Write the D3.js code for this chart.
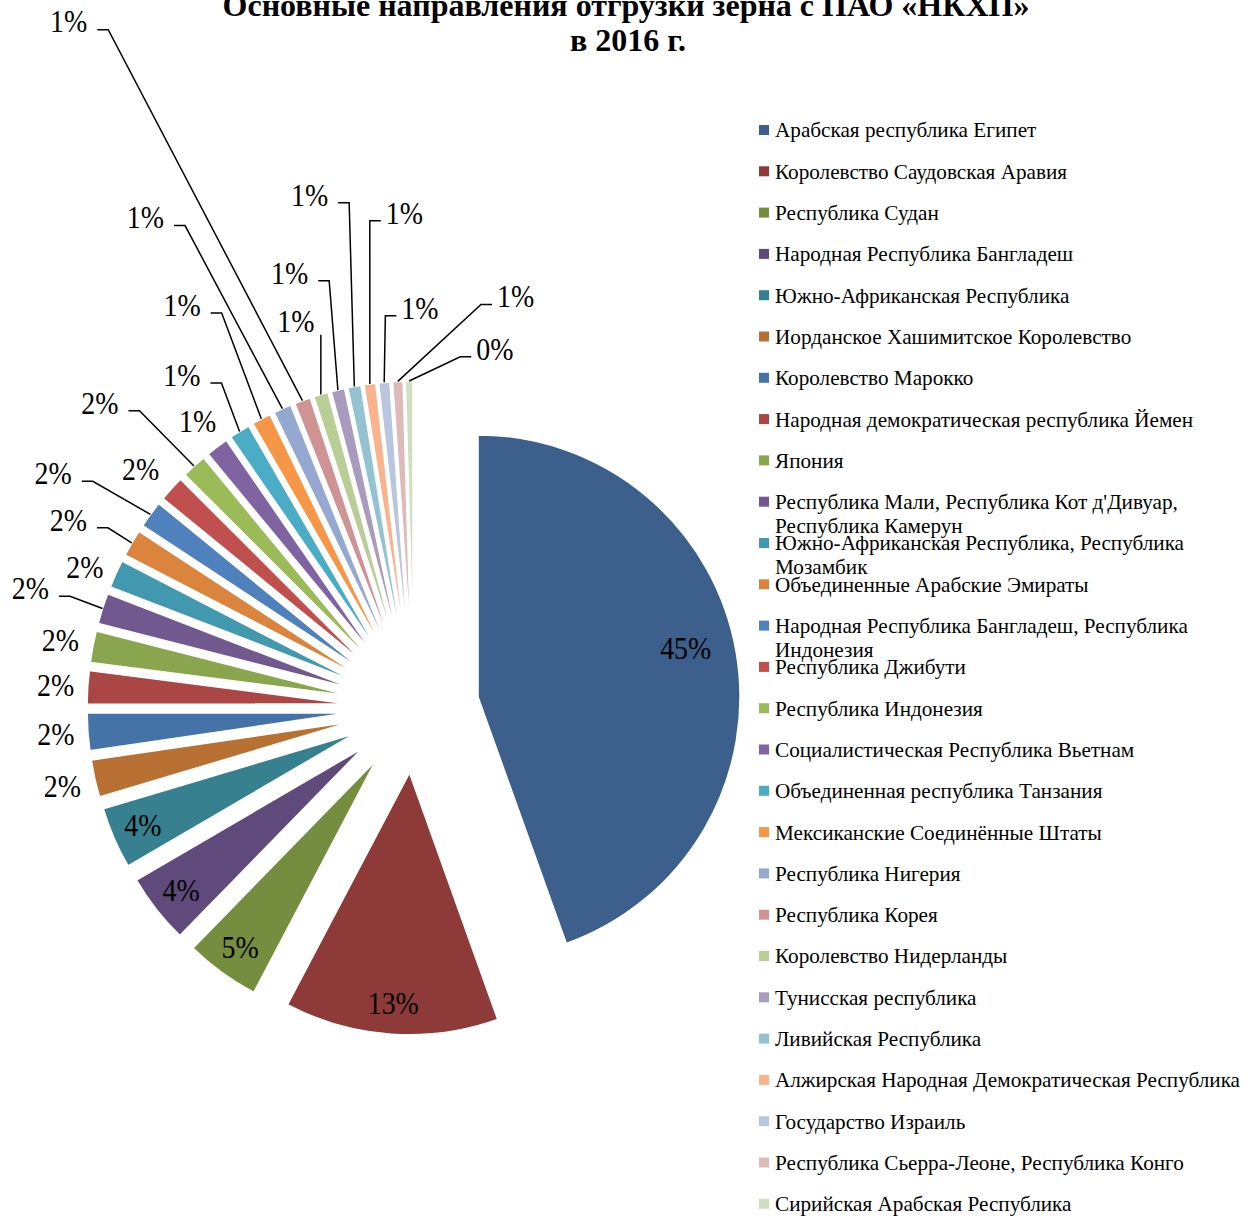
<!DOCTYPE html>
<html>
<head>
<meta charset="utf-8">
<script src="https://cdn.jsdelivr.net/npm/d3@7"></script>
<style>
  body { margin: 0; background: #fff; }
  svg { display: block; }
  text { font-family: "Liberation Serif", "Times New Roman", serif; fill: #000; }
</style>
</head>
<body>
<svg id="chart"></svg>
<script>
// countries in the order of the pie (clockwise from 12 o'clock)
const categories = [
  "Арабская республика Египет",
  "Королевство Саудовская Аравия",
  "Республика Судан",
  "Народная Республика Бангладеш",
  "Южно-Африканская Республика",
  "Иорданское Хашимитское Королевство",
  "Королевство Марокко",
  "Народная демократическая республика Йемен",
  "Япония",
  "Республика Мали, Республика Кот д'Дивуар,\nРеспублика Камерун",
  "Южно-Африканская Республика, Республика\nМозамбик",
  "Объединенные Арабские Эмираты",
  "Народная Республика Бангладеш, Республика\nИндонезия",
  "Республика Джибути",
  "Республика Индонезия",
  "Социалистическая Республика Вьетнам",
  "Объединенная республика Танзания",
  "Мексиканские Соединённые Штаты",
  "Республика Нигерия",
  "Республика Корея",
  "Королевство Нидерланды",
  "Тунисская республика",
  "Ливийская Республика",
  "Алжирская Народная Демократическая Республика",
  "Государство Израиль",
  "Республика Сьерра-Леоне, Республика Конго",
  "Сирийская Арабская Республика"
];

// share of shipments, %
const shares = [44.6, 13.2, 4.6, 4.3, 3.8, 2.3, 2.3, 2.05, 1.95, 1.9, 1.72, 1.67, 1.66,
  1.58, 1.53, 1.39, 1.28, 1.17, 1.11, 1.0, 0.89, 0.83, 0.81, 0.72, 0.69, 0.64, 0.47];

const colors = [
  "#3c5f8c", "#8e3a38", "#758d3f", "#5f4a7b", "#36808f", "#b97133",
  "#4572a7", "#aa4643", "#89a54e", "#71588f", "#4198af", "#db843d",
  "#4f81bd", "#c0504d", "#9bbb59", "#8064a2", "#4bacc6", "#f79646",
  "#95a9d0", "#d09393", "#b9ce97", "#a99bbd", "#93c3d3", "#f9b48e",
  "#b9c6df", "#dfbaba", "#d2dec0"
];

// labels dragged away from their default spot (as in the Excel original)
const labelShift = [
  [-4, -12], [0, 0], [0, 0], [0, 0], [0, 0], [0, 0], [0, 0], [0, 0], [0, 0],
  [-40, -10], [0, 7], [-34, -6], [-70, -21], [-6, 3], [-72, -39], [0, 0],
  [-41, -30], [-65, -87], [-125, -164], [-224, -352], [-17, -47], [-42, -91],
  [-40, -166], [38, -146], [38, -50], [119, -61], [86, -9]
];

const width = 1248, height = 1216;
const cx = 414, cy = 708;
const radius = 262, explode = 65;
const labelScaleX = 0.9;

const svg = d3.select("#chart").attr("width", width).attr("height", height);

// title
const title = svg.append("text")
  .attr("text-anchor", "middle")
  .attr("font-weight", "bold")
  .attr("font-size", "32px");
title.append("tspan").attr("x", 626).attr("y", 16).text("Основные направления отгрузки зерна с ПАО «НКХП»");
title.append("tspan").attr("x", 628).attr("y", 51).text("в 2016 г.");

const total = d3.sum(shares);
const pieData = d3.pie().sort(null).value(d => d)(shares);
const arc = d3.arc().innerRadius(0).outerRadius(radius);
const dir = a => [Math.sin(a), -Math.cos(a)];
const mid = d => (d.startAngle + d.endAngle) / 2;

const chart = svg.append("g").attr("transform", `translate(${cx},${cy})`);

chart.selectAll("path.slice")
  .data(pieData)
  .join("path")
    .attr("class", "slice")
    .attr("transform", d => {
      const [x, y] = dir(mid(d));
      return `translate(${x * explode},${y * explode})`;
    })
    .attr("d", arc)
    .attr("fill", (d, i) => colors[i])
    .attr("stroke", "#fff")
    .attr("stroke-width", 1.5);

// data labels
const labels = [];
pieData.forEach((d, i) => {
  const m = mid(d);
  const [ux, uy] = dir(m);
  const apex = [ux * explode, uy * explode];
  const edge = [apex[0] + ux * radius, apex[1] + uy * radius];
  const pct = Math.round(d.value / total * 100) + "%";
  const s = labelShift[i];
  if (d.value / total >= 0.03) {
    const k = i === 0 ? 0.82 : 0.88;
    labels.push({pct, x: apex[0] + ux * radius * k + s[0], y: apex[1] + uy * radius * k + s[1], leader: null});
  } else {
    const ext = 13 + 18.5 * Math.abs(Math.sin(m)) + 10 * Math.abs(Math.cos(m));
    labels.push({
      pct,
      x: edge[0] + ux * ext + s[0],
      y: edge[1] + uy * ext + s[1],
      leader: Math.hypot(s[0], s[1]) > 9 ? edge : null
    });
  }
});

const lblText = chart.selectAll("text.pct")
  .data(labels)
  .join("text")
    .attr("class", "pct")
    .attr("transform", d => `translate(${d.x},${d.y}) scale(${labelScaleX},1)`)
    .attr("text-anchor", "middle")
    .attr("dy", "0.35em")
    .attr("font-size", "31px")
    .text(d => d.pct);

// leader lines: short horizontal tick beside the label, then to the slice edge
lblText.each(function(d) {
  if (!d.leader) return;
  const hw = this.getComputedTextLength() * labelScaleX / 2;
  const A = d.leader;
  const y0 = d.y + 8;
  let pts;
  if (d.x < A[0]) {
    const x1 = d.x + hw + 10, x2 = d.x + hw + 21;
    pts = x2 > A[0] + 3 ? [[A[0], d.y + 14], A] : [[x1, y0], [x2, y0], A];
  } else {
    const x1 = d.x - hw - 5, x2 = d.x - hw - 16;
    pts = x2 < A[0] - 3 ? [[A[0], d.y + 14], A] : [[x1, y0], [x2, y0], A];
  }
  chart.append("path")
    .attr("d", d3.line()(pts))
    .attr("fill", "none")
    .attr("stroke", "#000")
    .attr("stroke-width", 1.5);
});

// legend
const legend = svg.append("g").attr("transform", "translate(759,130)");
const item = legend.selectAll("g")
  .data(categories)
  .join("g")
    .attr("transform", (d, i) => `translate(0,${i * 41.3})`);
item.append("rect")
  .attr("x", 0).attr("y", -5)
  .attr("width", 10).attr("height", 10)
  .attr("fill", (d, i) => colors[i]);
item.append("text")
  .attr("x", 16)
  .attr("font-size", "21.2px")
  .each(function(d) {
    const t = d3.select(this);
    d.split("\n").forEach((line, j) => {
      t.append("tspan").attr("x", 16).attr("dy", j === 0 ? "0.35em" : "24px").text(line);
    });
  });
</script>
</body>
</html>
